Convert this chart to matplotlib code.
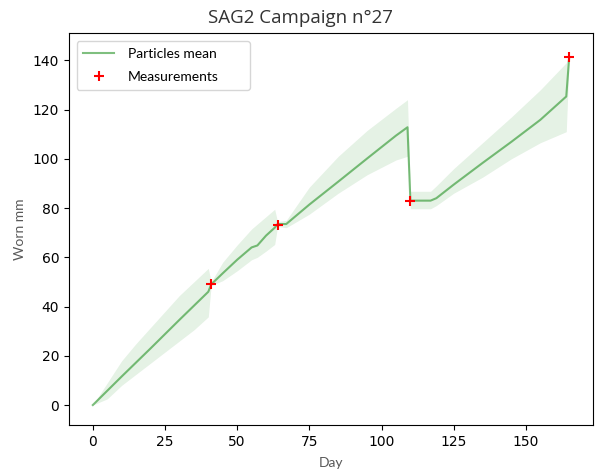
import numpy as np
import matplotlib.pyplot as plt

# particle filter output
day = [0, 5, 10, 15, 20, 25, 30, 35, 40, 41,
       45, 50, 55, 57, 60, 63, 64,
       67, 75, 85, 95, 105, 109, 110,
       117, 119, 125, 135, 145, 155, 164, 165]
mean = [0, 5.8, 11.6, 17.3, 23, 28.8, 34.6, 40.3, 46, 49,
        53.5, 59, 64, 64.8, 68.8, 72, 73.5,
        73.5, 81.4, 90.7, 100.1, 109.4, 112.8, 83,
        83, 84, 89.5, 98.3, 106.9, 115.8, 125.3, 141]
lower = [0, 2.5, 8, 12.5, 17, 21.5, 26, 30.5, 35.8, 48.5,
         50.5, 54.5, 59, 60, 62.5, 65.2, 72.5,
         72, 77.5, 86, 93.5, 99.5, 101, 79.7,
         79.7, 81, 86, 92.5, 100, 106.5, 111, 140.5]
upper = [0, 9, 18, 25, 31.5, 38, 44.5, 50, 55.5, 50,
         58, 65, 71.5, 73.5, 76.5, 79.5, 74.5,
         75, 88.5, 101, 111.5, 120.5, 124, 86.8,
         86.8, 89, 96, 106.5, 117, 128, 139, 143.5]

meas_day = [41, 64, 110, 165]
meas_val = [49, 73.3, 83, 141.5]

txt_font = ['Lato', 'DejaVu Sans']

fig = plt.figure(figsize=(5.98, 4.74), dpi=100)
ax = fig.add_axes([0.1154, 0.1034, 0.9916 - 0.1154, 0.930 - 0.1034])

line, = ax.plot(day, mean, color='g', alpha=0.5, linewidth=1.5)
ax.fill_between(day, lower, upper, color='g', alpha=0.1, linewidth=0)
pts, = ax.plot(meas_day, meas_val, '+', color='red', markersize=7, markeredgewidth=1.5)

ax.set_xlim(-8.25, 173.25)
ax.set_ylim(-8.1, 151)
ax.set_xticks([0, 25, 50, 75, 100, 125, 150])
ax.set_yticks([0, 20, 40, 60, 80, 100, 120, 140])

ax.set_title('SAG2 Campaign n°27', family=['Open Sans', 'DejaVu Sans'], fontsize=13.5,
             color='#333333', pad=7, x=0.442)
ax.set_xlabel('Day', family=txt_font, fontsize=10, color='#595959', labelpad=6)
ax.set_ylabel('Worn mm', family=txt_font, fontsize=10, color='#595959', labelpad=5)
ax.legend([line, pts], ['Particles mean', 'Measurements'], loc='upper left',
          bbox_to_anchor=(0.0143, 0.851, 0.331, 0.129), mode='expand',
          borderaxespad=0, borderpad=0.5, labelspacing=0.8,
          handletextpad=1.0, handlelength=2.2,
          prop={'family': txt_font, 'size': 10})

fig.savefig('out.png', dpi=100)
